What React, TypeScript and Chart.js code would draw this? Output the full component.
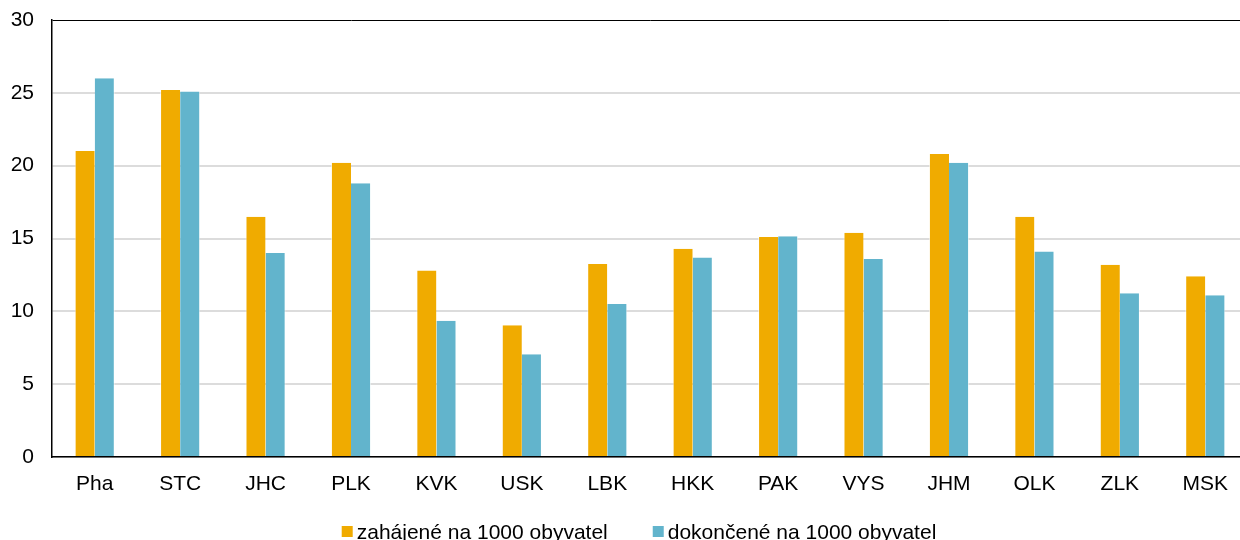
import React, { useEffect, useRef } from "react";
import { Chart, registerables } from "chart.js";

Chart.register(...registerables);

const categories = ["Pha", "STC", "JHC", "PLK", "KVK", "USK", "LBK", "HKK", "PAK", "VYS", "JHM", "OLK", "ZLK", "MSK"];
const started = [21.0, 25.2, 16.5, 20.2, 12.8, 9.05, 13.25, 14.3, 15.1, 15.4, 20.8, 16.5, 13.2, 12.4];
const completed = [26.0, 25.1, 14.0, 18.8, 9.35, 7.05, 10.5, 13.7, 15.15, 13.6, 20.2, 14.1, 11.25, 11.1];
const seriesLabels = ["zahájené na 1000 obyvatel", "dokončené na 1000 obyvatel"];
const yTicks = [0, 5, 10, 15, 20, 25, 30];

const ORANGE = "#F0AB00";
const BLUE = "#62B4CC";
const FONT = "'Liberation Sans', Arial, sans-serif";
const FS = 21;

const bottomLegend = {
  id: "bottomLegend",
  afterDraw(chart: any) {
    const ctx = chart.ctx;
    ctx.save();
    ctx.font = `${FS}px ${FONT}`;
    ctx.textBaseline = "alphabetic";
    ctx.textAlign = "left";
    const box = 11;
    const gap = 4;
    const spacing = 45;
    const items = chart.data.datasets.map((d: any) => ({
      label: d.label,
      color: d.backgroundColor,
      w: box + gap + ctx.measureText(d.label).width,
    }));
    const total = items.reduce((a: number, it: any) => a + it.w, 0) + spacing * (items.length - 1);
    const center = (chart.chartArea.left + chart.chartArea.right) / 2 - 11;
    let x = center - total / 2;
    const baseline = chart.chartArea.bottom + 82;
    for (const it of items) {
      ctx.fillStyle = it.color;
      ctx.fillRect(x, baseline - 13, box, box);
      ctx.fillStyle = "#000";
      ctx.fillText(it.label, x + box + gap, baseline);
      x += it.w + spacing;
    }
    ctx.restore();
  },
};

export default function App() {
  const ref = useRef<HTMLCanvasElement | null>(null);
  useEffect(() => {
    if (!ref.current) return;
    const chart = new Chart(ref.current, {
      type: "bar",
      data: {
        labels: categories,
        datasets: [
          { label: seriesLabels[0], data: started, backgroundColor: ORANGE, borderColor: "rgba(255,255,255,0.6)", borderWidth: { left: 1, right: 0, top: 0, bottom: 0 } as any, categoryPercentage: 0.47, barPercentage: 1.0 },
          { label: seriesLabels[1], data: completed, backgroundColor: BLUE, borderColor: "rgba(255,255,255,0.6)", borderWidth: { left: 0, right: 1, top: 0, bottom: 0 } as any, categoryPercentage: 0.47, barPercentage: 1.0 },
        ],
      },
      plugins: [bottomLegend],
      options: {
        animation: false,
        responsive: false,
        maintainAspectRatio: false,
        layout: { padding: { top: 20, right: 2, left: 0, bottom: 63 } },
        plugins: {
          tooltip: { enabled: false },
          legend: { display: false },
        },
        scales: {
          x: {
            afterFit: (s: any) => {
              s.height = 40;
              s.paddingLeft = 0;
              s.paddingRight = 0;
            },
            grid: { display: false, drawTicks: false },
            border: { display: true, color: "#000", width: 1.5 },
            ticks: {
              color: "#000",
              font: { family: FONT, size: FS },
              padding: 15,
              maxRotation: 0,
            },
          },
          y: {
            min: 0,
            max: 30,
            afterBuildTicks: (s: any) => {
              s.ticks = yTicks.map((v) => ({ value: v }));
            },
            afterFit: (s: any) => {
              s.width = 52;
              s.paddingTop = 0;
              s.paddingBottom = 0;
            },
            grid: {
              drawTicks: false,
              color: (ctx: any) => (ctx.tick && ctx.tick.value === 30 ? "#000" : "#dcdcdc"),
              lineWidth: (ctx: any) => (ctx.tick && ctx.tick.value === 30 ? 1 : 2),
            },
            border: { display: true, color: "#000", width: 1.5 },
            ticks: {
              color: "#000",
              font: { family: FONT, size: FS },
              padding: 18,
            },
          },
        },
      },
    });
    return () => chart.destroy();
  }, []);
  return (
    <div style={{ position: "fixed", left: 0, top: 0, width: 1240, height: 540, overflow: "hidden", background: "#fff" }}>
      <canvas ref={ref} width={1250} height={560} style={{ display: "block" }} />
    </div>
  );
}
